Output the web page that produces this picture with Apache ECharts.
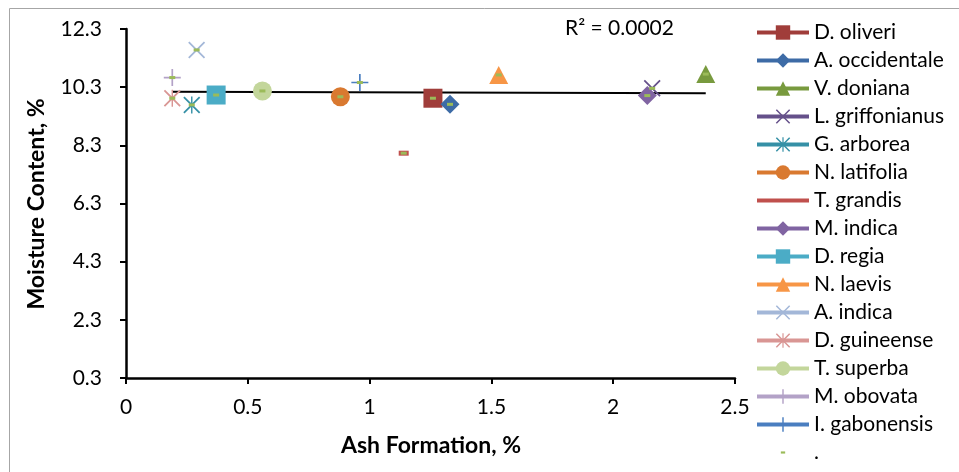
<!DOCTYPE html>
<html>
<head>
<meta charset="utf-8">
<script src="https://cdn.jsdelivr.net/npm/echarts@6/dist/echarts.min.js"></script>
<style>
  html, body { margin: 0; padding: 0; background: #ffffff; }
  #chart { width: 959px; height: 472px; }
</style>
</head>
<body>
<div id="chart"></div>
<script>
// Species measured, in legend order
const species = [
  'D. oliveri', 'A. occidentale', 'V. doniana', 'L. griffonianus', 'G. arborea',
  'N. latifolia', 'T. grandis', 'M. indica', 'D. regia', 'N. laevis',
  'A. indica', 'D. guineense', 'T. superba', 'M. obovata', 'I. gabonensis'
];
// Ash formation (%) per species
const ashFormation = [1.26, 1.33, 2.38, 2.16, 0.27, 0.88, 1.14, 2.14, 0.37, 1.53, 0.29, 0.19, 0.56, 0.19, 0.96];
// Moisture content (%) per species
const moistureContent = [9.92, 9.71, 10.75, 10.26, 9.69, 9.97, 8.03, 10.01, 10.03, 10.72, 11.58, 9.92, 10.17, 10.63, 10.46];
// Name of the combined series carrying every point
const allPointsName = '.';
// Fit statistic shown beside the trend line
const rSquaredText = 'R\u00B2 = 0.0002';
// Axis tick values
const xTicks = [0, 0.5, 1, 1.5, 2, 2.5];
const yTicks = [0.3, 2.3, 4.3, 6.3, 8.3, 10.3, 12.3];
// Axis titles
const xTitle = 'Ash Formation, %';
const yTitle = 'Moisture Content, %';

// Marker shapes built as filled paths (20 x 20 box)
const X_PATH = 'path://M0.8,-0.8L20.8,19.2L19.2,20.8L-0.8,0.8ZM19.2,-0.8L20.8,0.8L0.8,20.8L-0.8,19.2Z';
const PLUS_PATH = 'path://M9,0L11,0L11,20L9,20ZM0,9L20,9L20,11L0,11Z';
const STAR_PATH = 'path://M0.8,-0.8L20.8,19.2L19.2,20.8L-0.8,0.8ZM19.2,-0.8L20.8,0.8L0.8,20.8L-0.8,19.2ZM9.1,-0.8L10.9,-0.8L10.9,20.8L9.1,20.8Z';
// Thin bar markers padded inside a larger box so they stay small in the legend
const DASH_PATH = 'path://M0,0M20,20M0,8.75L20,8.75L20,11.25L0,11.25Z';
const DOT_PATH = 'path://M0,0M20,20M7,8.5L13,8.5L13,11.5L7,11.5Z';

const styles = [
  { color: '#A03D3A', symbol: 'rect', size: 19 },
  { color: '#3D6BA6', symbol: 'diamond', size: 19 },
  { color: '#789A3E', symbol: 'triangle', size: [19, 18] },
  { color: '#65508A', symbol: X_PATH, size: 17 },
  { color: '#3590A6', symbol: STAR_PATH, size: 17 },
  { color: '#D97930', symbol: 'circle', size: 19 },
  { color: '#C0504D', symbol: DASH_PATH, size: [10, 40] },
  { color: '#8064A2', symbol: 'diamond', size: 19 },
  { color: '#4BACC6', symbol: 'rect', size: 19 },
  { color: '#F79646', symbol: 'triangle', size: [19, 18] },
  { color: '#A3B7D8', symbol: X_PATH, size: 17 },
  { color: '#D99694', symbol: STAR_PATH, size: 17 },
  { color: '#C3D69B', symbol: 'circle', size: 19 },
  { color: '#B3A2C7', symbol: PLUS_PATH, size: 17 },
  { color: '#4A7EC0', symbol: PLUS_PATH, size: 17 }
];

// Least-squares trend line through all points
const n = ashFormation.length;
const mx = ashFormation.reduce((a, b) => a + b, 0) / n;
const my = moistureContent.reduce((a, b) => a + b, 0) / n;
let sxy = 0, sxx = 0;
for (let i = 0; i < n; i++) {
  sxy += (ashFormation[i] - mx) * (moistureContent[i] - my);
  sxx += (ashFormation[i] - mx) * (ashFormation[i] - mx);
}
const slope = sxy / sxx;
const intercept = my - slope * mx;
const xMin = Math.min(...ashFormation);
const xMax = Math.max(...ashFormation);

const FONT = 'Lato';
const series = species.map((name, i) => ({
  name: name,
  type: 'line',
  data: [[ashFormation[i], moistureContent[i]]],
  symbol: styles[i].symbol,
  symbolSize: styles[i].size,
  showSymbol: true,
  itemStyle: { color: styles[i].color },
  lineStyle: { color: styles[i].color, width: 4 },
  z: 3
}));

series.push({
  name: 'trend',
  type: 'line',
  data: [[xMin, intercept + slope * xMin], [xMax, intercept + slope * xMax]],
  showSymbol: false,
  symbol: 'none',
  silent: true,
  lineStyle: { color: '#000000', width: 2 },
  z: 2
});

series.push({
  name: allPointsName,
  type: 'line',
  data: ashFormation.map((x, i) => [x, moistureContent[i]]),
  symbol: DOT_PATH,
  symbolSize: 20,
  showSymbol: true,
  itemStyle: { color: '#9BBB59' },
  lineStyle: { width: 0, color: 'rgba(0,0,0,0)' },
  z: 4
});

const chart = echarts.init(document.getElementById('chart'), null, { renderer: 'canvas' });
chart.setOption({
  animation: false,
  backgroundColor: '#ffffff',
  grid: { left: 126, right: 224, top: 29, bottom: 94, containLabel: false },
  xAxis: {
    type: 'value',
    min: xTicks[0],
    max: xTicks[xTicks.length - 1],
    interval: 0.5,
    axisLine: { lineStyle: { color: '#000000', width: 2.5 } },
    axisTick: { show: true, inside: false, length: 6, lineStyle: { color: '#000000', width: 2 } },
    axisLabel: { color: '#000000', fontFamily: FONT, fontSize: 21, margin: 19 },
    splitLine: { show: false }
  },
  yAxis: {
    type: 'value',
    min: yTicks[0],
    max: yTicks[yTicks.length - 1],
    interval: 2,
    axisLine: { show: true, lineStyle: { color: '#000000', width: 2.5 } },
    axisTick: { show: true, inside: false, length: 6, lineStyle: { color: '#000000', width: 2 } },
    axisLabel: { color: '#000000', fontFamily: FONT, fontSize: 21, margin: 24 },
    splitLine: { show: false }
  },
  legend: {
    orient: 'vertical',
    left: 750,
    top: 17,
    itemWidth: 52,
    itemHeight: 18,
    itemGap: 7,
    data: species.concat([allPointsName]),
    lineStyle: { width: 4 },
    textStyle: { color: '#000000', fontFamily: FONT, fontSize: 21 },
    selectedMode: false
  },
  graphic: [
    {
      type: 'rect',
      silent: true,
      shape: { x: 9.5, y: 8.5, width: 1000, height: 1000 },
      style: { fill: 'none', stroke: '#A6A6A6', lineWidth: 1 }
    },
    {
      type: 'text',
      x: 565, y: 28,
      style: { text: rSquaredText, fill: '#000000', font: '21px ' + FONT, align: 'left', verticalAlign: 'middle' }
    },
    {
      type: 'text',
      x: 431, y: 446,
      style: { text: xTitle, fill: '#000000', font: 'bold 23px ' + FONT, align: 'center', verticalAlign: 'middle' }
    },
    {
      type: 'text',
      x: 37, y: 204,
      rotation: Math.PI / 2,
      style: { text: yTitle, fill: '#000000', font: 'bold 23px ' + FONT, align: 'center', verticalAlign: 'middle' }
    }
  ],
  series: series
});
</script>
</body>
</html>
